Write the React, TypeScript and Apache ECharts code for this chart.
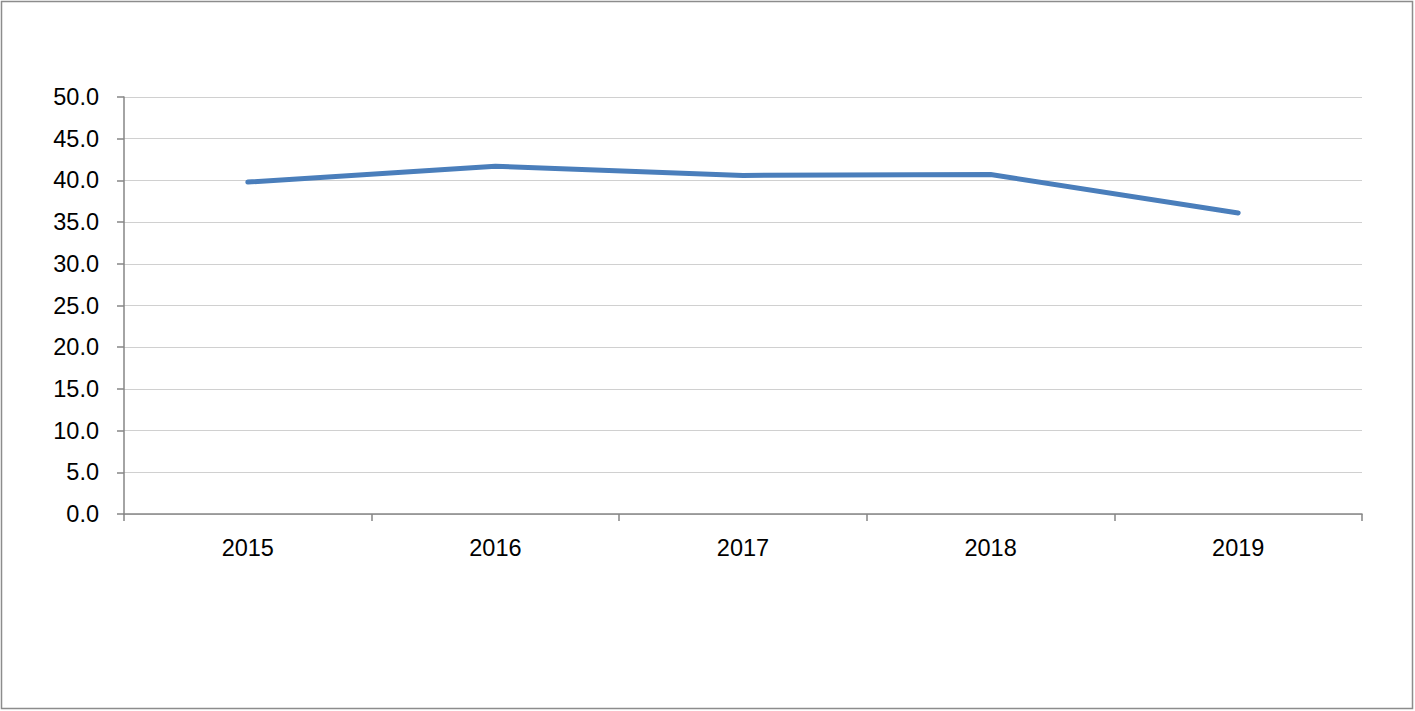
import React, { useEffect, useRef } from "react";
import * as echarts from "echarts";

const years = ["2015", "2016", "2017", "2018", "2019"];
const values = [39.8, 41.7, 40.6, 40.7, 36.1];
const yMin = 0;
const yMax = 50;
const yStep = 5;

export default function App() {
  const ref = useRef<HTMLDivElement>(null);
  useEffect(() => {
    document.body.style.margin = "0";
    const chart = echarts.init(ref.current!, null, { renderer: "svg" });
    const font = "'Liberation Sans', Carlito, Calibri, sans-serif";
    chart.setOption({
      animation: false,
      backgroundColor: "#ffffff",
      graphic: [
        {
          type: "rect",
          shape: { x: 1.5, y: 1.5, width: 1411, height: 707 },
          style: { fill: "none", stroke: "#8c8c8c", lineWidth: 1.5 },
          silent: true,
        },
      ],
      grid: { left: 124, right: 53, top: 97, bottom: 197 },
      xAxis: {
        type: "category",
        data: years,
        boundaryGap: true,
        axisLine: { lineStyle: { color: "#868686", width: 1.5 } },
        axisTick: { show: true, length: 7, lineStyle: { color: "#868686", width: 1.5 } },
        axisLabel: { color: "#000", fontSize: 23.5, fontFamily: font, margin: 22 },
        splitLine: { show: false },
      },
      yAxis: {
        type: "value",
        min: yMin,
        max: yMax,
        interval: yStep,
        axisLine: { show: true, lineStyle: { color: "#868686", width: 1.5 } },
        axisTick: { show: true, length: 7, lineStyle: { color: "#868686", width: 1.5 } },
        axisLabel: {
          color: "#000",
          fontSize: 23.5,
          fontFamily: font,
          margin: 25,
          formatter: (v: number) => v.toFixed(1),
        },
        splitLine: { show: true, lineStyle: { color: "#d0d0d0", width: 1 } },
      },
      series: [
        {
          type: "line",
          data: values,
          showSymbol: false,
          symbol: "none",
          lineStyle: { color: "#4a7ebb", width: 5, cap: "round", join: "round" },
          itemStyle: { color: "#4a7ebb" },
        },
      ],
    });
    return () => chart.dispose();
  }, []);
  return <div ref={ref} style={{ width: 1415, height: 711 }} />;
}
